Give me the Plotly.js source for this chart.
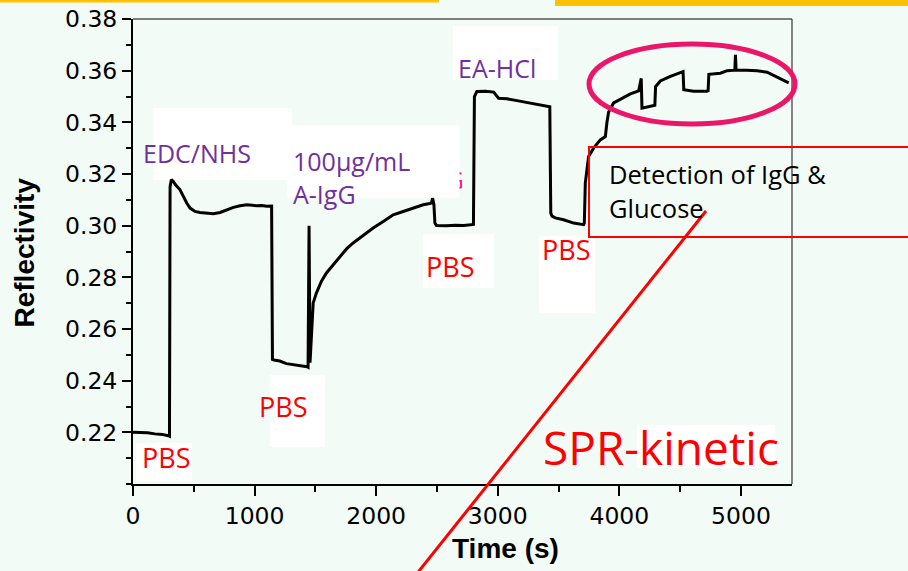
<!DOCTYPE html>
<html>
<head>
<meta charset="utf-8">
<script src="https://cdn.plot.ly/plotly-3.0.1.min.js"></script>
<style>html,body{margin:0;padding:0;background:#F2FBF6;}#chart{width:908px;height:571px;}</style>
</head>
<body>
<div id="chart"></div>
<script>
// ---- data ----
const timeS = [
  0, 60, 120, 180, 240, 290, 300,
  305, 315, 330, 350, 387, 414, 442, 469, 510, 551, 600, 661, 716, 771, 826, 881, 936, 980, 1018, 1060, 1100, 1140,
  1147, 1160, 1207, 1262, 1317, 1372, 1432, 1440,
  1448, 1456, 1465, 1482, 1509, 1550, 1591, 1646, 1701, 1756, 1811, 1866, 1921, 1975, 2058, 2140, 2222, 2305, 2387, 2440, 2455, 2464, 2475, 2483, 2496, 2579, 2650, 2720, 2790, 2800,
  2808, 2828, 2900, 2966, 3007, 3075, 3158, 3240, 3322, 3418, 3428,
  3436, 3446, 3473, 3541, 3624, 3706, 3712,
  3720, 3747, 3788, 3843, 3885, 3898, 3912, 3953, 4008, 4091, 4159, 4180,
  4186, 4226, 4281, 4292,
  4298, 4337, 4420, 4516, 4524,
  4530, 4610, 4720, 4730,
  4736, 4831, 4886, 4950, 4955, 4960, 5048, 5133, 5215, 5260, 5298, 5350, 5393
];
const reflectivity = [
  0.2200, 0.2200, 0.2198, 0.2194, 0.2192, 0.2187, 0.2185,
  0.3150, 0.3178, 0.3172, 0.3158, 0.3139, 0.3113, 0.3088, 0.3068, 0.3055, 0.3051, 0.3048, 0.3046, 0.3051, 0.3062, 0.3071, 0.3077, 0.3081, 0.3079, 0.3077, 0.3078, 0.3075, 0.3076,
  0.2482, 0.2480, 0.2476, 0.2466, 0.2463, 0.2459, 0.2454, 0.2452,
  0.3000, 0.2470, 0.2559, 0.2701, 0.2740, 0.2785, 0.2817, 0.2849, 0.2881, 0.2910, 0.2933, 0.2952, 0.2972, 0.2991, 0.3016, 0.3042, 0.3055, 0.3068, 0.3081, 0.3086, 0.3088, 0.3107, 0.3081, 0.3010, 0.3001, 0.3000, 0.3002, 0.3001, 0.3004, 0.3005,
  0.3500, 0.3519, 0.3520, 0.3517, 0.3493, 0.3491, 0.3484, 0.3477, 0.3468, 0.3462, 0.3460,
  0.3049, 0.3037, 0.3030, 0.3023, 0.3010, 0.3004, 0.3010,
  0.3165, 0.3268, 0.3300, 0.3332, 0.3345, 0.3400, 0.3440, 0.3475, 0.3490, 0.3510, 0.3522, 0.3570,
  0.3455, 0.3459, 0.3464, 0.3466,
  0.3538, 0.3560, 0.3578, 0.3596, 0.3596,
  0.3526, 0.3520, 0.3520, 0.3522,
  0.3586, 0.3590, 0.3600, 0.3602, 0.3661, 0.3602, 0.3602, 0.3600, 0.3594, 0.3584, 0.3573, 0.3562, 0.3553
];
const yTickVals = [0.22, 0.24, 0.26, 0.28, 0.30, 0.32, 0.34, 0.36, 0.38];
const yTickText = ["0.22", "0.24", "0.26", "0.28", "0.30", "0.32", "0.34", "0.36", "0.38"];
const xTickVals = [0, 1000, 2000, 3000, 4000, 5000];
const xTickText = ["0", "1000", "2000", "3000", "4000", "5000"];
const stepLabels = ["PBS", "EDC/NHS", "PBS", "100µg/mL<br>A-IgG", "PBS", "EA-HCl", "PBS"];
const xTitle = "Time (s)";
const yTitle = "Reflectivity";
const noteLines = ["Detection of IgG &", "Glucose"];
const bigNote = "SPR-kinetic";

// ---- layout helpers (pixel -> paper) ----
const L = 133, T = 19, PW = 659, PH = 465;
const px = x => (x - L) / PW;
const py = y => (T + PH - y) / PH;

const BG = "#F2FBF6";
const PURPLE = "#7030A0";
const RED = "#FF0000";
const OS = "Open Sans, Noto Sans, sans-serif";

function label(text, left, capMid, color, size) {
  return {text: text, xref: "paper", yref: "paper", x: px(left), y: py(capMid),
    xanchor: "left", yanchor: "middle", align: "left", showarrow: false, borderpad: 0,
    font: {family: OS, size: size, color: color}};
}
function whiteRect(x0, y0, x1, y1) {
  return {type: "rect", xref: "paper", yref: "paper", layer: "below",
    x0: px(x0), x1: px(x1), y0: py(y0), y1: py(y1),
    fillcolor: "#FFFFFF", line: {width: 0}};
}

const trace = {
  x: timeS, y: reflectivity, type: "scatter", mode: "lines",
  line: {color: "#000000", width: 3}, hoverinfo: "skip"
};

const annotations = [
  label(stepLabels[1], 142, 153, PURPLE, 25),
  {text: "G", xref: "paper", yref: "paper", x: px(446), y: py(180), xanchor: "left", yanchor: "middle",
   showarrow: false, borderpad: 0, font: {family: OS, size: 23, color: "#FF1080"}},
  {text: " ", xref: "paper", yref: "paper", x: px(287), y: py(125), xanchor: "left", yanchor: "top",
   showarrow: false, borderpad: 0, width: 171, height: 71, bgcolor: "#FFFFFF", font: {size: 10}},
  label(stepLabels[3], 292, 177, PURPLE, 25),
  label(stepLabels[5], 457, 68, PURPLE, 25),
  label(noteLines[0], 608, 174.5, "#000000", 25.5),
  label(noteLines[1], 608, 207.5, "#000000", 25.5),
  label(stepLabels[0], 141, 457, RED, 27),
  label(stepLabels[2], 258, 406.5, RED, 27),
  label(stepLabels[4], 425, 266.5, RED, 27),
  label(stepLabels[6], 541, 249, RED, 27),
  label(bigNote, 542, 447, RED, 46),
  {text: "<b>" + xTitle + "</b>", xref: "paper", yref: "paper", x: px(505), y: py(548),
   xanchor: "center", yanchor: "middle", showarrow: false, borderpad: 0,
   font: {family: "Liberation Sans, Arial, sans-serif", size: 28, color: "#000000"}},
  {text: "<b>" + yTitle + "</b>", xref: "paper", yref: "paper", x: px(24), y: py(252.5),
   xanchor: "center", yanchor: "middle", textangle: -90, showarrow: false, borderpad: 0,
   font: {family: "Liberation Sans, Arial, sans-serif", size: 28, color: "#000000"}}
];

const shapes = [
  // yellow slide bars
  {type: "rect", xref: "paper", yref: "paper", x0: px(0), x1: px(439), y0: py(0), y1: py(2.5), fillcolor: "#FFC000", line: {width: 0}},
  {type: "rect", xref: "paper", yref: "paper", x0: px(555), x1: px(908), y0: py(0), y1: py(6), fillcolor: "#FFC000", line: {width: 0}},
  // white label backgrounds
  whiteRect(153, 108, 292, 180),
  whiteRect(453, 26, 558, 80),
  whiteRect(136, 443, 192, 481),
  whiteRect(270, 375, 325, 447),
  whiteRect(423, 234, 494, 288),
  whiteRect(539, 236, 595, 313),
  whiteRect(637, 425, 775, 468),
  // top / right frame
  {type: "line", xref: "paper", yref: "paper", x0: 0, x1: 1, y0: 1, y1: 1, line: {color: "#7F7F7F", width: 2}},
  {type: "line", xref: "paper", yref: "paper", x0: 1, x1: 1, y0: 0, y1: 1, line: {color: "#444444", width: 1.3}},
  // red callout box and pointer line
  {type: "rect", xref: "paper", yref: "paper", x0: px(589), x1: px(915), y0: py(147), y1: py(237),
   line: {color: RED, width: 2}, fillcolor: "rgba(0,0,0,0)"},
  {type: "line", xref: "paper", yref: "paper", x0: px(706), y0: py(211), x1: px(415), y1: py(576),
   line: {color: RED, width: 3}},
  // pink ellipse
  {type: "circle", xref: "paper", yref: "paper", x0: px(589), x1: px(795), y0: py(44), y1: py(124),
   line: {color: "#EC1669", width: 5}, fillcolor: "rgba(0,0,0,0)"}
];

const layout = {
  width: 908, height: 571,
  margin: {l: L, r: 908 - L - PW, t: T, b: 571 - T - PH, pad: 0},
  paper_bgcolor: BG, plot_bgcolor: BG,
  showlegend: false,
  font: {family: "DejaVu Sans, sans-serif", color: "#000000"},
  xaxis: {
    range: [0, 5420], tickmode: "array", tickvals: xTickVals, ticktext: xTickText,
    showline: true, linecolor: "#000000", linewidth: 2, showgrid: false, zeroline: false,
    ticks: "outside", ticklen: 10, tickwidth: 2, tickcolor: "#000000",
    tickfont: {family: "DejaVu Sans, sans-serif", size: 23.5, color: "#000000"},
    minor: {tickmode: "linear", tick0: 0, dtick: 500, ticks: "outside", ticklen: 6, tickwidth: 2, tickcolor: "#000000", showgrid: false},
    fixedrange: true
  },
  yaxis: {
    range: [0.20, 0.38], tickmode: "array", tickvals: yTickVals, ticktext: yTickText,
    showline: true, linecolor: "#000000", linewidth: 2, showgrid: false, zeroline: false,
    ticks: "outside", ticklen: 9, tickwidth: 2, tickcolor: "#000000",
    tickfont: {family: "DejaVu Sans, sans-serif", size: 23.5, color: "#000000"},
    minor: {tickmode: "linear", tick0: 0.20, dtick: 0.01, ticks: "outside", ticklen: 5, tickwidth: 2, tickcolor: "#000000", showgrid: false},
    fixedrange: true
  },
  annotations: annotations,
  shapes: shapes
};

Plotly.newPlot("chart", [trace], layout, {displayModeBar: false, staticPlot: true});
</script>
</body>
</html>
